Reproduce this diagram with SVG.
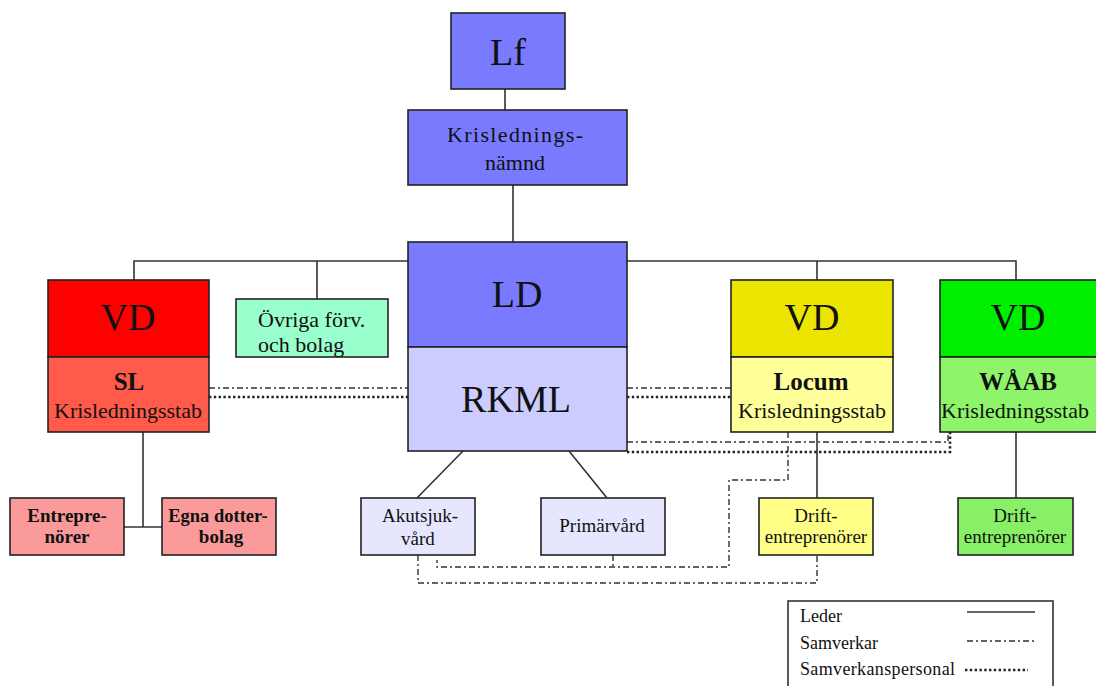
<svg xmlns="http://www.w3.org/2000/svg" width="1096" height="686" viewBox="0 0 1096 686">
<style>
.box{stroke:#222;stroke-width:1.6}
.t{font-family:"Liberation Serif","Times New Roman",serif;fill:#111;text-anchor:middle}
.big{font-size:38px}
.mid{font-size:22px}
.sm{font-size:19px}
.b{font-weight:bold}
.solid{fill:none;stroke:#333;stroke-width:1.6}
.dd{fill:none;stroke:#333;stroke-width:1.4;stroke-dasharray:6 3 2 3}
.dot{fill:none;stroke:#222;stroke-width:2.6;stroke-dasharray:2.4 2.4}
</style>
<rect width="1096" height="686" fill="#fff"/>
<g id="connectors">
<path class="solid" d="M505 89V110M513 185V242M134 280V261H1016V280M317 261V299M817 261V280M463 451L417 498M569 451L607 498M817 432V498M1016 432V498M143 432V527M124 527H162"/>
<path class="dd" d="M209 388H408M627 388H731M627 442H948V432M788 432V480H729V567H437V560M613 555V567M418 555V583H817V555"/>
<path class="dot" d="M209 397H408M627 397H731M627 452H950V432"/>
</g>
<g id="lf"><rect class="box" x="451" y="13" width="114" height="76" fill="#7a7aff"/><text class="t big" x="508" y="65">Lf</text></g>
<g id="kln"><rect class="box" x="408" y="110" width="219" height="75" fill="#7a7aff"/><text class="t mid" x="515" y="142" textLength="136">Krislednings-</text><text class="t mid" x="515" y="170">nämnd</text></g>
<g id="ld"><rect class="box" x="408" y="242" width="219" height="105" fill="#7a7aff"/><text class="t big" x="517" y="307">LD</text></g>
<g id="rkml"><rect class="box" x="408" y="347" width="219" height="104" fill="#ccccff"/><text class="t big" x="516" y="412">RKML</text></g>
<g id="vd-sl"><rect class="box" x="48" y="280" width="161" height="77" fill="#ff0000"/><text class="t big" x="128" y="330">VD</text></g>
<g id="sl"><rect class="box" x="48" y="357" width="161" height="75" fill="#ff5a4a"/><text class="t b" style="font-size:25px" x="129" y="390">SL</text><text class="t mid" x="128" y="418">Krisledningsstab</text></g>
<g id="ovriga"><rect class="box" x="236" y="299" width="152" height="58" fill="#99ffcc"/><text class="t mid" style="text-anchor:start" x="258" y="327">Övriga förv.</text><text class="t mid" style="text-anchor:start" x="258" y="352">och bolag</text></g>
<g id="vd-locum"><rect class="box" x="731" y="280" width="162" height="77" fill="#ece500"/><text class="t big" x="812" y="330">VD</text></g>
<g id="locum"><rect class="box" x="731" y="357" width="162" height="75" fill="#ffff99"/><text class="t b" style="font-size:25px" x="811" y="390">Locum</text><text class="t mid" x="812" y="418">Krisledningsstab</text></g>
<g id="vd-waab"><rect class="box" x="940" y="280" width="160" height="77" fill="#00ee00"/><text class="t big" x="1018" y="330">VD</text></g>
<g id="waab"><rect class="box" x="940" y="357" width="160" height="75" fill="#8ef56a"/><text class="t b" style="font-size:25px" x="1018" y="390">WÅAB</text><text class="t mid" x="1015" y="418">Krisledningsstab</text></g>
<g id="entreprenorer"><rect class="box" x="10" y="498" width="114" height="57" fill="#fa9a9a"/><text class="t sm b" x="67" y="522">Entrepre-</text><text class="t sm b" x="67" y="543">nörer</text></g>
<g id="dotterbolag"><rect class="box" x="162" y="498" width="114" height="57" fill="#fa9a9a"/><text class="t b" style="font-size:18.5px" x="218" y="522">Egna dotter-</text><text class="t sm b" x="221" y="543">bolag</text></g>
<g id="akut"><rect class="box" x="361" y="498" width="114" height="57" fill="#e6e6ff"/><text class="t sm" x="420" y="522">Akutsjuk-</text><text class="t sm" x="418" y="545">vård</text></g>
<g id="primar"><rect class="box" x="541" y="498" width="124" height="57" fill="#e6e6ff"/><text class="t sm" x="602" y="532">Primärvård</text></g>
<g id="drift-locum"><rect class="box" x="759" y="498" width="114" height="57" fill="#ffff88"/><text class="t sm" x="816" y="522">Drift-</text><text class="t sm" x="816" y="543">entreprenörer</text></g>
<g id="drift-waab"><rect class="box" x="958" y="498" width="115" height="57" fill="#88f066"/><text class="t sm" x="1015" y="522">Drift-</text><text class="t sm" x="1015" y="543">entreprenörer</text></g>
<g id="legend">
<rect x="788" y="601" width="265" height="100" fill="#fff" stroke="#333" stroke-width="1.6"/>
<text class="t" style="font-size:18px;text-anchor:start" x="800" y="622">Leder</text>
<text class="t" style="font-size:18px;text-anchor:start" x="800" y="649">Samverkar</text>
<text class="t" style="font-size:18px;text-anchor:start" x="800" y="675" textLength="155">Samverkanspersonal</text>
<path class="solid" d="M967 612H1035"/>
<path class="dd" d="M967 641H1034"/>
<path class="dot" d="M965 670H1028"/>
</g>
</svg>
